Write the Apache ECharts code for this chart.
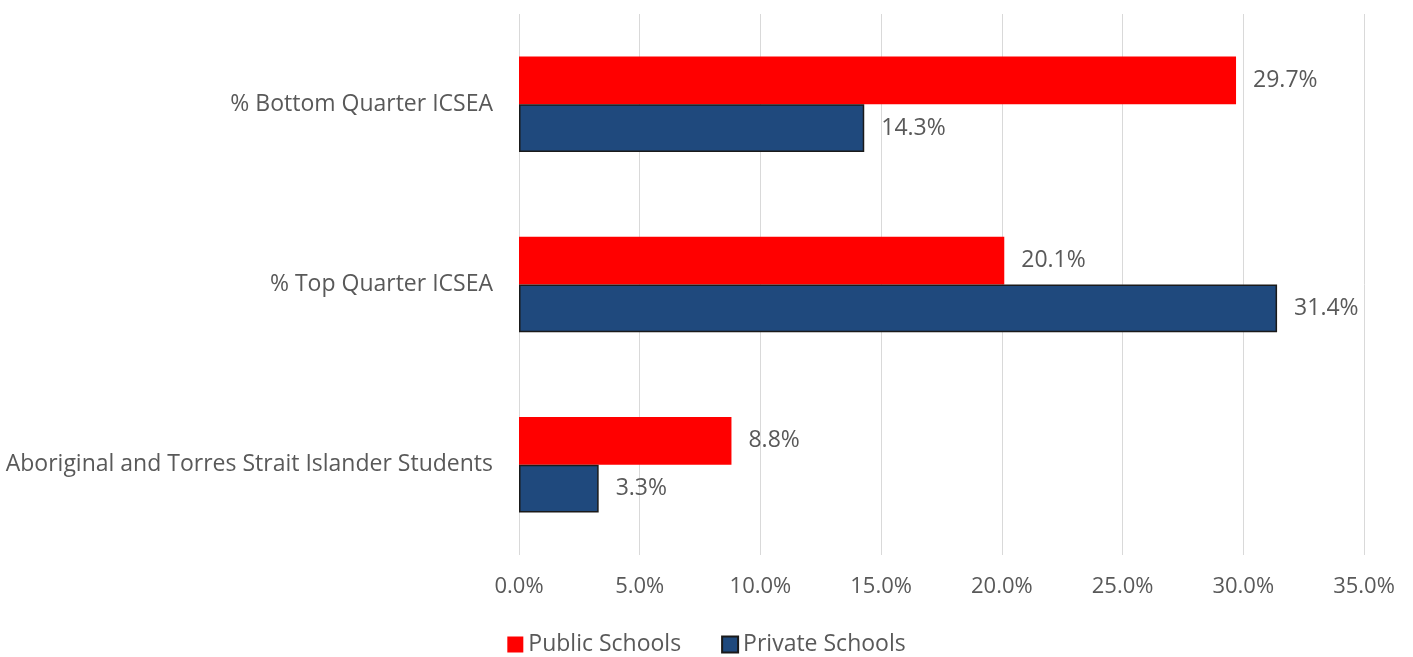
<!DOCTYPE html>
<html>
<head>
<meta charset="utf-8">
<title>Public vs Private Schools</title>
<script src="https://cdn.jsdelivr.net/npm/echarts@6/dist/echarts.min.js"></script>
<style>
  html, body { margin: 0; padding: 0; background: #fff; }
  #chart { width: 1413px; height: 657px; }
</style>
</head>
<body>
<div id="chart"></div>
<script>
// categories, top to bottom
var categories = ['% Bottom Quarter ICSEA', '% Top Quarter ICSEA', 'Aboriginal and Torres Strait Islander Students'];
var publicSchools = [29.7, 20.1, 8.8];
var privateSchools = [14.3, 31.4, 3.3];
var seriesNames = ['Public Schools', 'Private Schools'];

var font = 'Open Sans';
var textColor = '#595959';

var chart = echarts.init(document.getElementById('chart'));
var option = {
  animation: false,
  grid: { left: 519, right: 49, top: 14, bottom: 102 },
  legend: {
    bottom: -4,
    left: 'center',
    itemWidth: 16,
    itemHeight: 16,
    itemGap: 40,
    icon: 'rect',
    textStyle: { fontFamily: font, fontSize: 23, color: textColor },
    data: seriesNames
  },
  xAxis: {
    type: 'value',
    min: 0,
    max: 35,
    interval: 5,
    axisLine: { show: false },
    axisTick: { show: false },
    splitLine: { lineStyle: { color: '#d9d9d9', width: 1 } },
    axisLabel: {
      margin: 21,
      fontFamily: font, fontSize: 22, color: textColor,
      formatter: function (v) { return v.toFixed(1) + '%'; }
    }
  },
  yAxis: {
    type: 'category',
    inverse: true,
    data: categories,
    axisLine: { show: false },
    axisTick: { show: false },
    axisLabel: { margin: 26, fontFamily: font, fontSize: 23, color: textColor }
  },
  series: [
    {
      name: seriesNames[0],
      type: 'bar',
      data: publicSchools,
      barGap: '0%',
      barCategoryGap: '47%',
      itemStyle: { color: '#ff0000' },
      label: {
        show: true, position: 'right', distance: 17,
        fontFamily: font, fontSize: 23, color: textColor,
        formatter: function (p) { return p.value.toFixed(1) + '%'; }
      }
    },
    {
      name: seriesNames[1],
      type: 'bar',
      data: privateSchools,
      itemStyle: { color: '#1f497d', borderColor: '#1a1a1a', borderWidth: 1.5 },
      label: {
        show: true, position: 'right', distance: 17,
        fontFamily: font, fontSize: 23, color: textColor,
        formatter: function (p) { return p.value.toFixed(1) + '%'; }
      }
    }
  ]
};
chart.setOption(option);
</script>
</body>
</html>
